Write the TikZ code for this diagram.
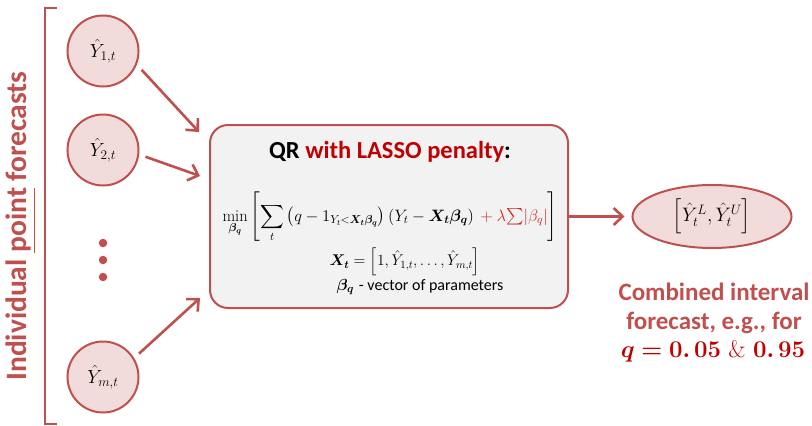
\RequirePackage{fix-cm}
\documentclass[tikz,border=0pt]{standalone}
\usepackage{fontspec}
\usepackage{amsmath,amssymb,bm}
\newfontfamily\calfont{Carlito}
\usetikzlibrary{arrows.meta,shapes.geometric}
\definecolor{accent}{HTML}{C0504D}
\definecolor{darkred}{HTML}{C00000}
\definecolor{penred}{HTML}{D42222}
\definecolor{pinkfill}{HTML}{F2DCDB}
\definecolor{boxfill}{HTML}{F2F2F2}
\begin{document}
\begin{tikzpicture}[x=1pt,y=-1pt,
  pt/.style={circle,draw=accent,line width=2pt,fill=pinkfill,minimum size=71pt,inner sep=0pt,outer sep=7.5pt,font=\fontsize{19}{21}\selectfont},
  conn/.style={draw=accent,line width=2.6pt,-{Straight Barb[length=9pt,width=17pt,line width=2.6pt]}},
  dotmark/.style={circle,fill=accent,minimum size=8.5pt,inner sep=0pt},
  lbl/.style={text=accent,font=\calfont\bfseries\fontsize{25}{29}\selectfont,align=center}]
\useasboundingbox (0,0) rectangle (812,426);
% bracket
\draw[accent,line width=2.6pt] (57,8) -- (45,8) -- (45,424) -- (57,424);
\node[rotate=90,text=accent,font=\calfont\bfseries\fontsize{29.5}{32}\selectfont] (side) at (21,226) {Individual \underline{point} forecasts};
% point forecast circles
\node[pt] (y1) at (103,51) {$\hat{Y}_{1,t}$};
\node[pt] (y2) at (103,150) {$\hat{Y}_{2,t}$};
\node[pt] (ym) at (103,377) {$\hat{Y}_{m,t}$};
\node[dotmark] (d1) at (103,243) {};
\node[dotmark] (d2) at (103,260) {};
\node[dotmark] (d3) at (103,277) {};
% QR box
\node[draw=accent,line width=2pt,fill=boxfill,rounded corners=18pt,minimum width=358pt,minimum height=183pt,inner sep=0pt] (box) at (389,216.5) {};
\node[font=\calfont\bfseries\fontsize{24.5}{28}\selectfont] (title) at (390,152) {QR \textcolor{darkred}{with LASSO penalty}:};
\node[font=\fontsize{16.5}{19}\selectfont] (form) at (390,217) {$\displaystyle\min_{\bm{\beta_q}}\left[\sum_t\left(q-1_{Y_t<\bm{X_t\beta_q}}\right)\left(Y_t-\bm{X_t\beta_q}\right)\textcolor{penred}{{}+\lambda{\textstyle\sum}|\beta_q|}\right]$};
\node[font=\fontsize{15.5}{18}\selectfont] (xt) at (405,262) {$\bm{X_t}=\left[1,\hat{Y}_{1,t},\ldots,\hat{Y}_{m,t}\right]$};
\node[font=\fontsize{16}{18}\selectfont] (bq) at (420,287) {$\bm{\beta_q}$ {\calfont - vector of parameters}};
% output
\node[ellipse,draw=accent,line width=2pt,fill=pinkfill,minimum width=159pt,minimum height=63pt,inner sep=0pt] (out) at (712,216.5) {\fontsize{19.5}{22}\selectfont$\left[\hat{Y}_t^L,\hat{Y}_t^U\right]$};
\node[lbl] (cap) at (714,308) {Combined interval\\forecast, e.g., for};
\node[text=darkred,font=\fontsize{24}{28}\selectfont] (qv) at (713,351) {$\bm{q=0.\,05}$ \& $\bm{0.\,95}$};
% connectors
\coordinate (e1) at (199,132);
\coordinate (e2) at (200,176);
\coordinate (em) at (200,298);
\draw[conn] (y1.-26) -- (e1);
\draw[conn] (y2.-9.5) -- (e2);
\draw[conn] (ym.33) -- (em);
\draw[conn,shorten >=7pt] (box.east) -- (out.west);
\end{tikzpicture}
\end{document}
